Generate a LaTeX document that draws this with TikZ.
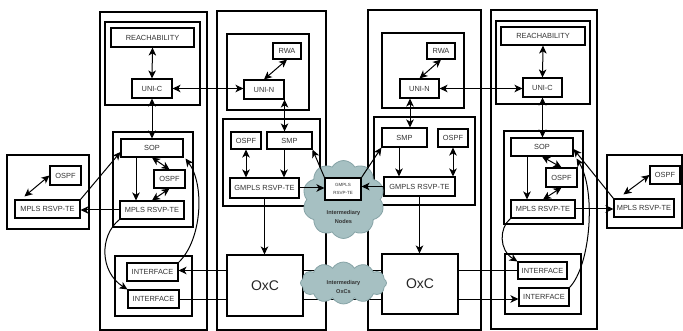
\documentclass[tikz,border=0pt]{standalone}
\usepackage{fontspec}
\setmainfont{Liberation Sans}
\usetikzlibrary{arrows.meta,calc,fit,shapes.symbols}
\definecolor{txt}{HTML}{333333}
\definecolor{cloudfill}{HTML}{A6C0C2}
\definecolor{cloudline}{HTML}{86A3A6}
\tikzset{
  frame/.style={draw, line width=1.1pt, inner sep=0pt, fill=none},
  box/.style={draw, line width=1.1pt, fill=white, inner sep=0pt, text=txt,
    font=\fontsize{7.4}{8}\selectfont},
  oxcbox/.style={draw, line width=1.1pt, fill=white, inner sep=0pt, text=black!85,
    font=\fontsize{14}{16}\selectfont},
  smallbox/.style={draw, line width=1.1pt, fill=white, inner sep=0pt, text=txt, align=center,
    font=\fontsize{4.5}{7.5}\selectfont},
  cloudnode/.style={cloud, cloud puffs=10, cloud puff arc=120, aspect=1.1, draw=cloudline,
    fill=cloudfill, line width=0.8pt, inner sep=0pt},
  cloudtext/.style={text=txt, align=center, font=\fontsize{5.6}{9}\selectfont\bfseries},
  tip/.tip={Stealth[length=8pt,width=7.5pt,inset=2.2pt]},
  conn/.style={line width=1pt, -tip},
  dconn/.style={line width=1pt, tip-tip},
  plain/.style={line width=1pt}
}
\begin{document}
\begin{tikzpicture}[x=1pt,y=-1pt]
\useasboundingbox (0,0) rectangle (683,331);
% ---------- containers ----------
\node[frame, fit={(100,12) (207,330)}] (c1) {};
\node[frame, fit={(105,22) (200,105)}] (c1top) {};
\node[frame, fit={(113,132) (193,227)}] (c1low) {};
\node[frame, fit={(115,256) (192,316)}] (c1if) {};
\node[frame, fit={(7,155) (89,229)}] (ext1) {};
\node[frame, fit={(217,11) (326,330)}] (c2) {};
\node[frame, fit={(227,34) (309,110)}] (c2top) {};
\node[frame, fit={(223,119) (320,206)}] (c2low) {};
\node[frame, fit={(368,10) (481,330)}] (c3) {};
\node[frame, fit={(382,33) (464,108)}] (c3top) {};
\node[frame, fit={(374,117) (475,205)}] (c3low) {};
\node[frame, fit={(491,10) (597,329)}] (c4) {};
\node[frame, fit={(496,21) (590,104)}] (c4top) {};
\node[frame, fit={(504,131) (583,224)}] (c4low) {};
\node[frame, fit={(505,254) (581,314)}] (c4if) {};
\node[frame, fit={(607,155) (682,228)}] (ext4) {};
% ---------- column 1 ----------
\node[box, minimum width=83, minimum height=19] (reach1) at (152.5,37.5) {REACHABILITY};
\node[box, minimum width=40, minimum height=19] (unic1) at (152,88.5) {UNI-C};
\node[box, minimum width=62, minimum height=18] (sop1) at (152,148) {SOP};
\node[box, minimum width=31, minimum height=18] (ospf1) at (169.5,179) {OSPF};
\node[box, minimum width=64, minimum height=18] (mpls1) at (152,210) {MPLS RSVP-TE};
\node[box, minimum width=51, minimum height=18] (ifup1) at (152.5,272) {INTERFACE};
\node[box, minimum width=51, minimum height=18] (iflo1) at (153.5,299) {INTERFACE};
% external left
\node[box, minimum width=31, minimum height=19] (ospfe1) at (65.5,175.5) {OSPF};
\node[box, minimum width=65, minimum height=18] (mplse1) at (47.5,209) {MPLS RSVP-TE};
% ---------- column 2 ----------
\node[box, minimum width=28, minimum height=16] (rwa2) at (287,51) {RWA};
\node[box, minimum width=40, minimum height=19] (unin2) at (264,89.5) {UNI-N};
\node[box, minimum width=30, minimum height=17] (ospf2) at (246,140.5) {OSPF};
\node[box, minimum width=45, minimum height=17] (smp2) at (289.5,140.5) {SMP};
\node[box, minimum width=69, minimum height=20] (gmpls2) at (264.5,188) {GMPLS RSVP-TE};
% ---------- column 3 ----------
\node[box, minimum width=28, minimum height=16] (rwa3) at (441,51) {RWA};
\node[box, minimum width=39, minimum height=19] (unin3) at (419.5,88.5) {UNI-N};
\node[box, minimum width=45, minimum height=19] (smp3) at (404.5,137.5) {SMP};
\node[box, minimum width=30, minimum height=18] (ospf3) at (453,138) {OSPF};
\node[box, minimum width=71, minimum height=19] (gmpls3) at (419.5,186.5) {GMPLS RSVP-TE};
% ---------- column 4 ----------
\node[box, minimum width=84, minimum height=18] (reach4) at (543,36) {REACHABILITY};
\node[box, minimum width=39, minimum height=19] (unic4) at (542.5,87.5) {UNI-C};
\node[box, minimum width=62, minimum height=18] (sop4) at (542,147) {SOP};
\node[box, minimum width=31, minimum height=19] (ospf4) at (561.5,177.5) {OSPF};
\node[box, minimum width=64, minimum height=18] (mpls4) at (543,209) {MPLS RSVP-TE};
\node[box, minimum width=49, minimum height=17] (ifup4) at (542.5,270.5) {INTERFACE};
\node[box, minimum width=50, minimum height=18] (iflo4) at (544,297) {INTERFACE};
% external right
\node[box, minimum width=30, minimum height=18] (ospfe4) at (665,175) {OSPF};
\node[box, minimum width=60, minimum height=18] (mplse4) at (644,208) {MPLS RSVP-TE};
% helper points for vertical links
\coordinate (a1) at ($(sop1.south)+(-16,0)$);
\coordinate (a2) at ($(smp2.south)+(-5.5,0)$);
\coordinate (a3) at ($(unin3.south)+(-9.5,0)$);
\coordinate (a4) at ($(smp3.south)+(-5.5,0)$);
\coordinate (a5) at ($(sop4.south)+(-15,0)$);
% ---------- interface links (behind OxCs and clouds) ----------
\draw[conn] (ifup4.west) -- (ifup4.west -| ifup1.east);
\draw[conn] (iflo1.east) -- (iflo1.east -| iflo4.west);
% ---------- OxCs ----------
\node[oxcbox, minimum width=76, minimum height=61] (oxc2) at (265,285.5) {OxC};
\node[oxcbox, minimum width=76, minimum height=60] (oxc3) at (420,284) {OxC};
% ---------- clouds ----------
\node[cloudnode, minimum width=82, minimum height=78] (cloudn) at (343.5,199.5) {};
\node[cloudnode, aspect=2.1, cloud puffs=12, minimum width=86, minimum height=42] (cloudo) at (343.5,283) {};
\node[cloudtext] (cloudntxt) at (343.5,216.5) {Intermediary\\Nodes};
\node[cloudtext] (cloudotxt) at (343.5,287) {Intermediary\\OxCs};
\node[smallbox, minimum width=36, minimum height=22] (cg) at (343,189) {GMPLS\\RSVP-TE};
% ---------- connectors column 1 ----------
\draw[dconn] (reach1.south) -- (unic1.north);
\draw[dconn] (unic1.south) -- (sop1.north);
\draw[dconn] (unic1.east) -- (unic1.east -| unin2.west);
\draw[conn] (a1) -- (a1 |- mpls1.north);
\draw[dconn] (sop1.south) -- (ospf1.north);
\draw[dconn] (ospf1.south) -- (mpls1.north);
\draw[conn] (mpls1.west) -- (mpls1.west -| mplse1.east);
\draw[conn] (mplse1.north east) -- ($(sop1.west)+(0,4)$);
\draw[dconn] (ospfe1.west) -- ($(mplse1.north west)+(10,-3)$);
\draw[conn] (mpls1.south west) .. controls (99,236) and (100,272) .. (iflo1.north west);
\draw[conn] (ifup1.north east) .. controls (202,240) and (205,185) .. ($(sop1.south east)+(2,1)$);
% ---------- connectors column 2 ----------
\draw[dconn] (rwa2.south) -- (unin2.north);
\draw[dconn] (unin2.south east) -- (unin2.south east |- smp2.north);
\draw[dconn] (ospf2.south) -- (ospf2.south |- gmpls2.north);
\draw[conn] (a2) -- (a2 |- gmpls2.north);
\draw[conn] (gmpls2.east) -- (gmpls2.east -| cg.west);
\draw[conn] (gmpls2.south) -- (gmpls2.south |- oxc2.north);
\draw[conn] (cg.north west) -- (smp2.south east);
\draw[conn] (cg.north east) -- (smp3.south west);
\draw[conn] (gmpls3.west) -- (gmpls3.west -| cg.east);
% ---------- connectors column 3 ----------
\draw[dconn] (rwa3.south) -- (unin3.north);
\draw[dconn] (a3) -- (a3 |- smp3.north);
\draw[conn] (a4) -- (a4 |- gmpls3.north);
\draw[dconn] (ospf3.south) -- (ospf3.south |- gmpls3.north);
\draw[conn] (gmpls3.south) -- (gmpls3.south |- oxc3.north);
\draw[dconn] (unin3.east) -- (unin3.east -| unic4.west);
% ---------- connectors column 4 ----------
\draw[dconn] (reach4.south) -- (unic4.north);
\draw[dconn] (unic4.south) -- (unic4.south |- sop4.north);
\draw[conn] (a5) -- (a5 |- mpls4.north);
\draw[dconn] (sop4.south) -- (ospf4.north);
\draw[dconn] (ospf4.south) -- (mpls4.north);
\draw[conn] (mpls4.east) -- (mpls4.east -| mplse4.west);
\draw[conn] (mplse4.north west) -- ($(sop4.east)+(0,2)$);
\draw[dconn] (ospfe4.west) -- ($(mplse4.north west)+(10,-4)$);
\draw[conn] (mpls4.south west) .. controls (499,228) and (499,250) .. (ifup4.north west);
\draw[conn] (iflo4.north east) .. controls (591,265) and (596,190) .. ($(sop4.south east)+(3,2)$);
\end{tikzpicture}
\end{document}
